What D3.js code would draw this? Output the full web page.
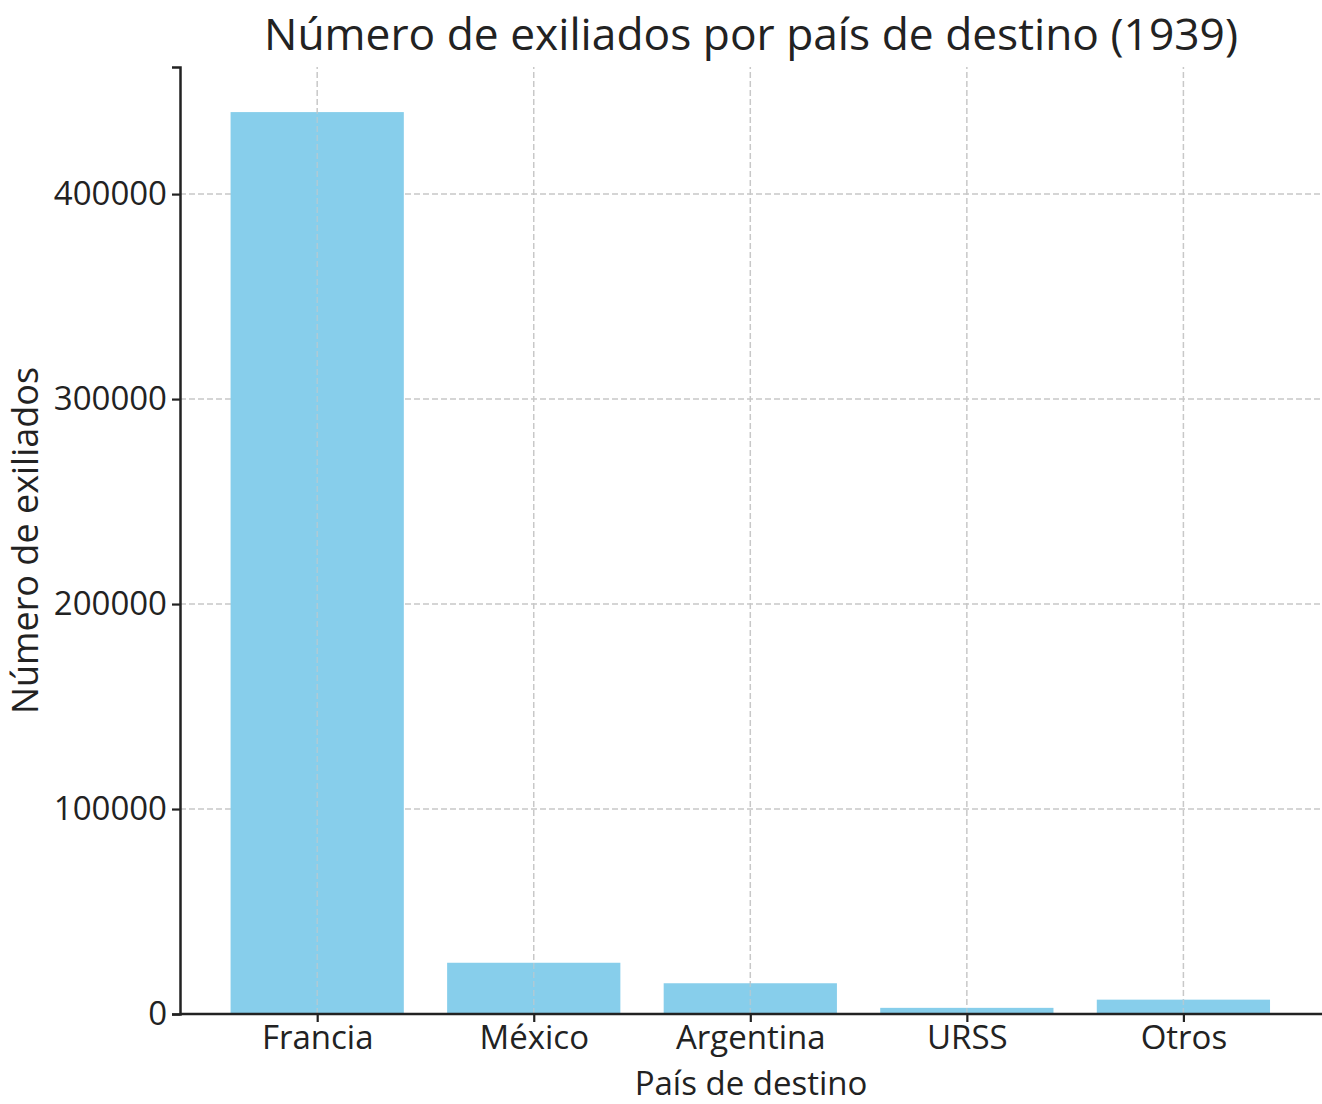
<!DOCTYPE html>
<html>
<head>
<meta charset="utf-8">
<script src="https://cdn.jsdelivr.net/npm/d3@7"></script>
<style>
  body { margin: 0; background: #fff; }
  text { font-family: "Open Sans", "Noto Sans", sans-serif; fill: #222; }
</style>
</head>
<body>
<div id="chart"></div>
<script>
const categories = ["Francia", "México", "Argentina", "URSS", "Otros"];
const exiliados = [440000, 25000, 15000, 3000, 7000];
const yTicks = [0, 100000, 200000, 300000, 400000];

const W = 1322, H = 1104;
const margin = { top: 67, right: 0, bottom: 90, left: 180 };
const barCol = "#87ceeb";

const svg = d3.select("#chart").append("svg")
    .attr("width", W)
    .attr("height", H);

// matplotlib-like x range: bars of width 0.8 at integer positions, 5% margins
const x = d3.scaleLinear()
    .domain([-0.64, categories.length - 1 + 0.64])
    .range([margin.left - 1.4, W - margin.right]);

const y = d3.scaleLinear()
    .domain([0, d3.max(exiliados) * 1.05])
    .range([H - margin.bottom, margin.top]);

const data = categories.map((c, i) => ({ category: c, i, value: exiliados[i] }));

// Grid lines
const grid = svg.append("g").attr("class", "grid");
grid.selectAll(".vgrid")
    .data(data)
    .enter()
    .append("line")
    .attr("x1", d => x(d.i))
    .attr("x2", d => x(d.i))
    .attr("y1", y.range()[0])
    .attr("y2", y.range()[1])
    .attr("stroke", "#c8c8c8")
    .attr("stroke-width", 1.5)
    .attr("stroke-dasharray", "6,3");

grid.selectAll(".hgrid")
    .data(yTicks)
    .enter()
    .append("line")
    .attr("x1", margin.left)
    .attr("x2", W)
    .attr("y1", d => y(d))
    .attr("y2", d => y(d))
    .attr("stroke", "#c8c8c8")
    .attr("stroke-width", 1.5)
    .attr("stroke-dasharray", "6,3");

// Bars
svg.selectAll(".bar")
    .data(data)
    .enter()
    .append("rect")
    .attr("class", "bar")
    .attr("x", d => x(d.i - 0.4))
    .attr("width", d => x(d.i + 0.4) - x(d.i - 0.4))
    .attr("y", d => y(d.value))
    .attr("height", d => y(0) - y(d.value))
    .attr("fill", barCol);

// Vertical grid shows faintly over bars
svg.selectAll(".vgrid-top")
    .data(data)
    .enter()
    .append("line")
    .attr("x1", d => x(d.i))
    .attr("x2", d => x(d.i))
    .attr("y1", d => y(0))
    .attr("y2", d => y(d.value))
    .attr("stroke", "#c8c8c8")
    .attr("stroke-opacity", 0.6)
    .attr("stroke-width", 1.5)
    .attr("stroke-dasharray", "6,3");

// Y axis
const yAxis = svg.append("g")
    .attr("transform", `translate(${margin.left},0)`)
    .call(d3.axisLeft(y).tickValues(yTicks).tickFormat(d3.format("d")).tickSize(8).tickPadding(5));
yAxis.select(".domain").attr("stroke", "#222").attr("stroke-width", 2.5);
yAxis.selectAll(".tick line").attr("stroke", "#222").attr("stroke-width", 2.2);
yAxis.selectAll(".tick text")
    .style("font-family", "'Open Sans', sans-serif")
    .attr("font-size", 33)
    .attr("fill", "#222");

// X axis
const xAxis = svg.append("g")
    .attr("transform", `translate(0,${H - margin.bottom})`)
    .call(d3.axisBottom(x).tickValues(d3.range(categories.length))
        .tickFormat(i => categories[i]).tickSize(8).tickPadding(4));
xAxis.select(".domain").attr("d", `M${margin.left},0H${W}`)
    .attr("stroke", "#222").attr("stroke-width", 2.5);
xAxis.selectAll(".tick line").attr("stroke", "#222").attr("stroke-width", 2.2);
xAxis.selectAll(".tick text")
    .style("font-family", "'Open Sans', sans-serif")
    .attr("font-size", 33)
    .attr("fill", "#222");

// Axis labels
svg.append("text")
    .attr("text-anchor", "middle")
    .attr("x", (margin.left + W) / 2)
    .attr("y", 1095)
    .attr("font-size", 33)
    .text("País de destino");

svg.append("text")
    .attr("text-anchor", "middle")
    .attr("transform", "rotate(-90)")
    .attr("x", -(margin.top + H - margin.bottom) / 2)
    .attr("y", 38)
    .attr("font-size", 36)
    .text("Número de exiliados");

// Title
svg.append("text")
    .attr("text-anchor", "middle")
    .attr("x", (margin.left + W) / 2)
    .attr("y", 50)
    .attr("font-size", 44.3)
    .text("Número de exiliados por país de destino (1939)");
</script>
</body>
</html>
